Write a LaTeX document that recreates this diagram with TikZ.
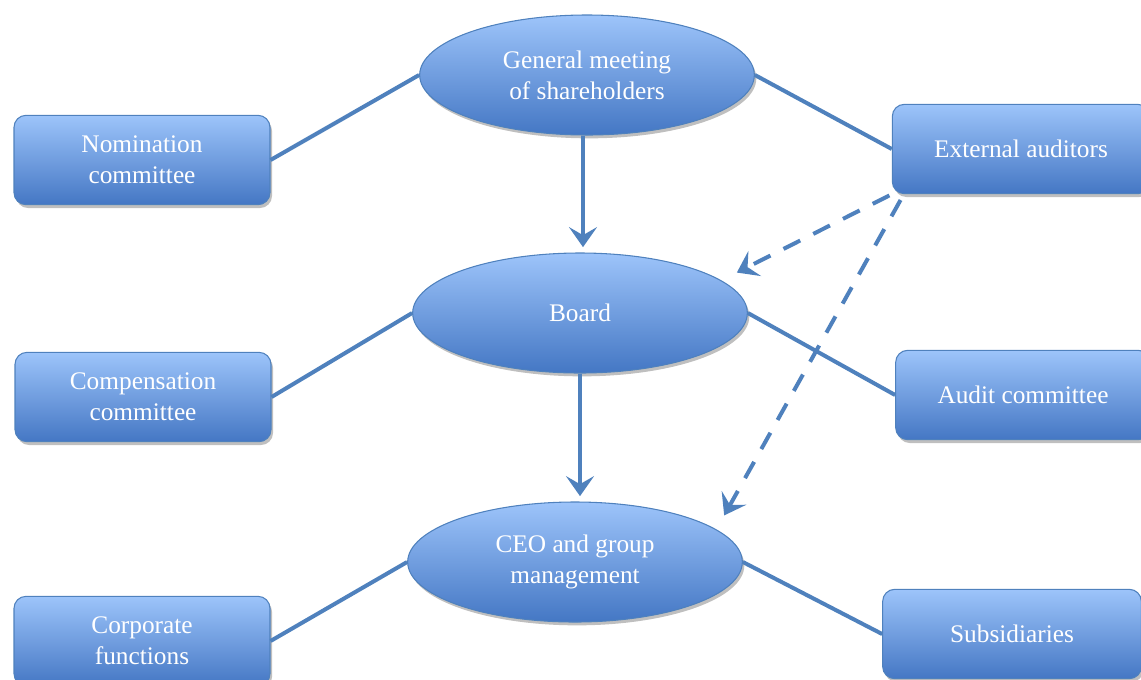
\documentclass[tikz,border=0pt]{standalone}
\usepackage{fontspec}
\setmainfont{Liberation Serif}
\usetikzlibrary{arrows.meta,shapes.geometric,shadows}
\definecolor{orgBlue}{HTML}{4F81BD}
\definecolor{orgBlueLight}{HTML}{9DC4FA}
\definecolor{orgBlueDark}{HTML}{4477C4}
\tikzset{
  link/.style={line width=3pt, draw=orgBlue},
  chain/.style={link, -{Stealth[length=15pt,width=21pt,inset=6pt]}},
  audit link/.style={link, dash pattern=on 14pt off 11pt,
    -{Stealth[length=15pt,width=21pt,inset=6pt]}},
  soft shadow/.style={drop shadow={shadow xshift=1.5pt,
    shadow yshift=-2.5pt, opacity=0.25, fill=black}},
  unit box/.style={draw=orgBlue, line width=0.8pt, rounded corners=9pt,
    top color=orgBlueLight, bottom color=orgBlueDark, soft shadow,
    minimum width=192pt, minimum height=67pt, align=center,
    text=white, font=\fontsize{19pt}{23pt}\selectfont},
  body/.style={ellipse, draw=orgBlue, line width=0.8pt, inner sep=0pt,
    top color=orgBlueLight, bottom color=orgBlueDark, soft shadow,
    minimum width=251pt, minimum height=90pt, align=center,
    text=white, font=\fontsize{19pt}{23pt}\selectfont}
}
\begin{document}
\begin{tikzpicture}[x=0.75pt, y=-0.75pt]
  \useasboundingbox (0,0) rectangle (1141,679);
  % governing bodies
  \node[body] (gm) at (587,75) {General meeting\\of shareholders};
  \node[body] (board) at (580,313) {Board};
  \node[body] (ceo) at (575,562) {CEO and group\\management};
  % committees and units
  \node[unit box] (nomination) at (142,160) {Nomination\\committee};
  \node[unit box] (compensation) at (143,397) {Compensation\\committee};
  \node[unit box] (corporate) at (142,641) {Corporate\\functions};
  \node[unit box, minimum width=193pt] (auditors) at (1021,149) {External auditors};
  \node[unit box, minimum width=191pt] (audit) at (1023,395) {Audit committee};
  \node[unit box, minimum width=194pt] (subs) at (1012,634) {Subsidiaries};
  % connectors
  \draw[link] (nomination.east) -- (gm.west);
  \draw[link] (gm.east) -- (auditors.west);
  \draw[link] (compensation.east) -- (board.west);
  \draw[link] (board.east) -- (audit.west);
  \draw[link] (corporate.east) -- (ceo.west);
  \draw[link] (ceo.east) -- (subs.west);
  \draw[chain, shorten >=4pt] ([xshift=-3pt]gm.south) -- ([xshift=-3pt]gm.south |- board.north);
  \draw[chain, shorten >=4pt] (board.south) -- (board.south |- ceo.north);
  \draw[audit link, shorten <=2pt, shorten >=13pt] (auditors.south west) -- (board.13);
  \draw[audit link, shorten <=5pt, shorten >=12pt]
    ([xshift=9pt]auditors.south west) -- (ceo.13);
\end{tikzpicture}
\end{document}
